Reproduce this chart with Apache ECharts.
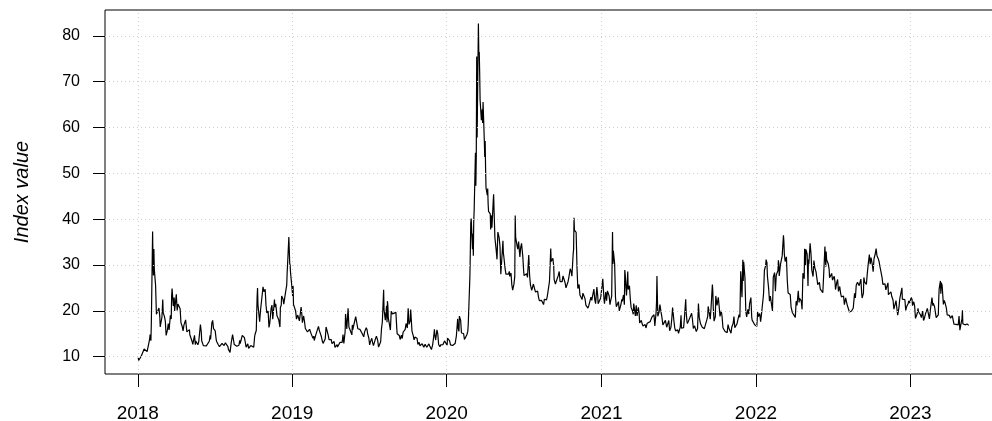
<!doctype html>
<html>
<head>
    <meta charset="UTF-8">
    <title>Index value</title>
    <script src="https://cdn.jsdelivr.net/npm/echarts@6/dist/echarts.min.js"></script>
    <style>
        html, body { margin: 0; padding: 0; background: #fff; }
        #main { width: 992px; height: 421px; }
    </style>
</head>
<body>
<div id="main"></div>
<script>
    // daily closes, [month-day, value], one list per year
    var vix2018 = [
        ['01-02', 9.77], ['01-03', 9.15], ['01-05', 9.22], ['01-09', 10.08], ['01-12', 10.16], ['01-16', 11.66],
        ['01-19', 11.27], ['01-23', 11.10], ['01-26', 11.08], ['01-29', 13.84], ['01-30', 14.79], ['02-01', 13.47],
        ['02-02', 17.31], ['02-05', 37.32], ['02-06', 29.98], ['02-07', 27.73], ['02-08', 33.46], ['02-09', 29.06],
        ['02-12', 25.61], ['02-14', 19.26], ['02-16', 19.46], ['02-20', 20.60], ['02-22', 18.72], ['02-23', 16.49],
        ['02-27', 18.59], ['03-01', 22.47], ['03-02', 19.59], ['03-05', 18.73], ['03-07', 17.76], ['03-09', 14.64],
        ['03-12', 15.78], ['03-14', 17.23], ['03-16', 15.80], ['03-19', 19.02], ['03-21', 18.20], ['03-22', 23.34],
        ['03-23', 24.87], ['03-26', 21.03], ['03-28', 22.87], ['03-29', 19.97], ['04-02', 23.62], ['04-04', 20.06],
        ['04-06', 21.49], ['04-09', 21.77], ['04-11', 20.47], ['04-13', 17.41], ['04-16', 16.56], ['04-18', 15.60],
        ['04-20', 16.88], ['04-24', 18.02], ['04-26', 16.24], ['04-27', 15.41], ['05-01', 15.49], ['05-03', 15.90],
        ['05-04', 14.77], ['05-07', 14.75], ['05-09', 13.42], ['05-11', 12.65], ['05-15', 14.63], ['05-17', 12.59],
        ['05-18', 13.42], ['05-21', 13.08], ['05-23', 12.58], ['05-25', 13.22], ['05-29', 17.02], ['05-31', 15.43],
        ['06-01', 13.46], ['06-05', 12.40], ['06-07', 12.13], ['06-08', 12.18], ['06-12', 12.35], ['06-14', 12.12],
        ['06-15', 11.98], ['06-19', 13.35], ['06-21', 14.64], ['06-22', 13.77], ['06-25', 17.33], ['06-27', 17.91],
        ['06-29', 16.09], ['07-03', 15.60], ['07-05', 13.94], ['07-06', 13.37], ['07-10', 12.64], ['07-12', 12.58],
        ['07-13', 12.18], ['07-17', 12.06], ['07-19', 12.87], ['07-20', 12.86], ['07-24', 12.41], ['07-26', 12.14],
        ['07-27', 13.03], ['07-31', 12.83], ['08-02', 12.19], ['08-03', 11.64], ['08-07', 10.93], ['08-09', 11.27],
        ['08-10', 13.16], ['08-13', 14.78], ['08-15', 14.64], ['08-17', 12.64], ['08-21', 12.86], ['08-23', 12.25],
        ['08-24', 11.99], ['08-28', 12.50], ['08-30', 13.53], ['08-31', 12.86], ['09-05', 14.65], ['09-07', 14.88],
        ['09-10', 14.16], ['09-12', 13.14], ['09-14', 12.07], ['09-18', 12.79], ['09-20', 11.80], ['09-21', 11.68],
        ['09-25', 12.42], ['09-27', 12.41], ['09-28', 12.12], ['10-02', 12.05], ['10-04', 14.22], ['10-05', 14.82],
        ['10-08', 15.69], ['10-10', 22.96], ['10-11', 24.98], ['10-12', 21.31], ['10-16', 17.62], ['10-18', 20.06],
        ['10-19', 19.89], ['10-22', 19.64], ['10-24', 25.23], ['10-26', 24.16], ['10-29', 24.70], ['10-31', 21.23],
        ['11-02', 19.51], ['11-05', 19.96], ['11-07', 16.36], ['11-09', 17.36], ['11-12', 20.45], ['11-14', 21.25],
        ['11-16', 18.14], ['11-20', 22.48], ['11-21', 20.80], ['11-23', 21.52], ['11-26', 18.90], ['11-28', 18.49],
        ['11-30', 18.07], ['12-03', 16.44], ['12-04', 20.74], ['12-06', 21.19], ['12-07', 23.23], ['12-10', 22.64],
        ['12-12', 21.46], ['12-14', 21.63], ['12-17', 24.52], ['12-19', 25.58], ['12-20', 28.38], ['12-21', 30.11],
        ['12-24', 36.07], ['12-26', 30.41], ['12-27', 29.96], ['12-28', 28.34], ['12-31', 25.42]
    ];
    var vix2019 = [
        ['01-02', 23.22], ['01-03', 25.45], ['01-04', 21.38], ['01-07', 21.40], ['01-09', 19.98], ['01-11', 18.19],
        ['01-14', 19.07], ['01-16', 19.04], ['01-18', 17.80], ['01-22', 20.80], ['01-24', 18.89], ['01-25', 17.42],
        ['01-28', 18.87], ['01-30', 17.66], ['02-01', 16.14], ['02-04', 15.73], ['02-06', 15.38], ['02-08', 15.72],
        ['02-11', 15.97], ['02-13', 15.65], ['02-15', 14.91], ['02-19', 14.02], ['02-21', 14.46], ['02-22', 13.51],
        ['02-26', 14.85], ['02-28', 14.78], ['03-01', 14.63], ['03-04', 16.59], ['03-06', 15.74], ['03-08', 16.05],
        ['03-11', 14.33], ['03-13', 13.41], ['03-15', 12.88], ['03-18', 13.10], ['03-20', 13.91], ['03-22', 16.48],
        ['03-25', 16.33], ['03-27', 14.68], ['03-29', 13.71], ['04-01', 13.40], ['04-03', 13.74], ['04-05', 12.82],
        ['04-08', 13.18], ['04-10', 13.30], ['04-12', 12.01], ['04-15', 12.32], ['04-17', 12.60], ['04-18', 12.09],
        ['04-22', 12.42], ['04-24', 13.14], ['04-26', 12.73], ['04-29', 13.11], ['05-01', 14.80], ['05-03', 12.87],
        ['05-06', 15.44], ['05-07', 19.32], ['05-09', 19.10], ['05-10', 16.04], ['05-13', 20.55], ['05-15', 16.44],
        ['05-17', 15.96], ['05-20', 16.31], ['05-22', 14.75], ['05-23', 16.92], ['05-24', 15.85], ['05-28', 17.50],
        ['05-30', 17.30], ['05-31', 18.71], ['06-03', 18.86], ['06-05', 16.09], ['06-07', 16.30], ['06-10', 15.94],
        ['06-12', 15.91], ['06-14', 15.28], ['06-17', 15.35], ['06-19', 14.33], ['06-21', 15.40], ['06-25', 16.28],
        ['06-27', 15.82], ['06-28', 15.08], ['07-01', 14.06], ['07-03', 12.57], ['07-05', 13.28], ['07-08', 14.01],
        ['07-10', 13.03], ['07-12', 12.39], ['07-15', 12.68], ['07-17', 13.97], ['07-19', 14.45], ['07-22', 13.53],
        ['07-24', 12.07], ['07-26', 12.16], ['07-29', 13.24], ['07-31', 16.12], ['08-02', 17.61], ['08-05', 24.59],
        ['08-06', 20.17], ['08-07', 19.49], ['08-09', 17.97], ['08-12', 21.09], ['08-13', 17.52], ['08-14', 22.10],
        ['08-15', 21.18], ['08-16', 18.47], ['08-19', 16.88], ['08-21', 15.80], ['08-23', 19.87], ['08-26', 19.32],
        ['08-28', 19.35], ['08-30', 18.98], ['09-03', 19.66], ['09-05', 16.27], ['09-06', 15.00], ['09-09', 15.27],
        ['09-11', 14.61], ['09-13', 13.74], ['09-16', 14.67], ['09-18', 13.95], ['09-20', 15.32], ['09-23', 14.91],
        ['09-25', 15.96], ['09-27', 17.22], ['09-30', 16.24], ['10-02', 20.56], ['10-03', 19.12], ['10-04', 17.04],
        ['10-07', 17.86], ['10-08', 20.28], ['10-09', 18.64], ['10-11', 15.58], ['10-14', 14.57], ['10-16', 13.68],
        ['10-18', 14.25], ['10-21', 14.00], ['10-23', 14.01], ['10-25', 12.65], ['10-28', 13.11], ['10-30', 12.33],
        ['11-01', 12.30], ['11-04', 12.83], ['11-06', 12.62], ['11-08', 12.07], ['11-11', 12.69], ['11-13', 13.00],
        ['11-15', 12.05], ['11-18', 12.46], ['11-20', 12.78], ['11-22', 12.34], ['11-26', 11.54], ['11-29', 12.62],
        ['12-02', 14.91], ['12-03', 15.96], ['12-04', 14.80], ['12-06', 13.62], ['12-09', 15.86], ['12-11', 14.99],
        ['12-13', 12.63], ['12-16', 12.14], ['12-18', 12.58], ['12-20', 12.51], ['12-23', 12.61], ['12-26', 12.65],
        ['12-27', 13.43], ['12-31', 13.78]
    ];
    var vix2020 = [
        ['01-02', 12.47], ['01-03', 14.02], ['01-06', 13.85], ['01-08', 13.45], ['01-10', 12.56], ['01-13', 12.32],
        ['01-15', 12.42], ['01-17', 12.10], ['01-21', 12.85], ['01-23', 12.98], ['01-24', 14.56], ['01-27', 18.23],
        ['01-28', 16.28], ['01-30', 15.49], ['01-31', 18.84], ['02-03', 17.97], ['02-05', 15.15], ['02-07', 15.47],
        ['02-10', 15.04], ['02-12', 13.74], ['02-14', 13.68], ['02-18', 14.83], ['02-20', 15.56], ['02-21', 17.08],
        ['02-24', 25.03], ['02-25', 27.85], ['02-26', 27.56], ['02-27', 39.16], ['02-28', 40.11], ['03-02', 33.42],
        ['03-03', 36.82], ['03-04', 31.99], ['03-05', 39.62], ['03-06', 41.94], ['03-09', 54.46], ['03-10', 47.30],
        ['03-11', 53.90], ['03-12', 75.47], ['03-13', 57.83], ['03-16', 82.69], ['03-17', 75.91], ['03-18', 76.45],
        ['03-19', 72.00], ['03-20', 66.04], ['03-23', 61.59], ['03-24', 61.67], ['03-25', 63.95], ['03-26', 61.00],
        ['03-27', 65.54], ['03-30', 57.08], ['03-31', 53.54], ['04-01', 57.06], ['04-02', 50.91], ['04-03', 46.80],
        ['04-06', 45.24], ['04-07', 46.70], ['04-08', 43.35], ['04-09', 41.67], ['04-13', 41.17], ['04-14', 37.76],
        ['04-15', 40.84], ['04-16', 40.11], ['04-17', 38.15], ['04-20', 43.83], ['04-21', 45.41], ['04-22', 41.98],
        ['04-24', 35.93], ['04-27', 33.29], ['04-29', 31.23], ['04-30', 34.15], ['05-01', 37.19], ['05-04', 35.97],
        ['05-06', 34.12], ['05-08', 27.98], ['05-11', 27.57], ['05-13', 35.28], ['05-14', 32.61], ['05-15', 31.89],
        ['05-18', 29.30], ['05-20', 27.99], ['05-22', 28.16], ['05-26', 28.01], ['05-28', 28.59], ['05-29', 27.51],
        ['06-01', 28.23], ['06-03', 25.66], ['06-05', 24.52], ['06-08', 25.81], ['06-10', 27.57], ['06-11', 40.79],
        ['06-12', 36.09], ['06-15', 34.40], ['06-17', 33.47], ['06-19', 35.12], ['06-22', 31.77], ['06-24', 33.84],
        ['06-26', 34.73], ['06-29', 31.78], ['07-01', 28.62], ['07-02', 27.68], ['07-06', 27.94], ['07-08', 28.08],
        ['07-10', 27.29], ['07-13', 32.19], ['07-15', 27.76], ['07-17', 25.68], ['07-20', 24.46], ['07-22', 24.32],
        ['07-24', 25.84], ['07-27', 24.74], ['07-29', 24.10], ['07-31', 24.46], ['08-03', 24.28], ['08-05', 22.99],
        ['08-07', 22.21], ['08-10', 22.13], ['08-12', 22.28], ['08-14', 22.05], ['08-17', 21.35], ['08-19', 22.53],
        ['08-21', 22.54], ['08-24', 22.37], ['08-26', 23.27], ['08-28', 22.96], ['08-31', 26.41], ['09-02', 26.57],
        ['09-03', 33.60], ['09-04', 30.75], ['09-08', 31.46], ['09-10', 29.71], ['09-11', 26.87], ['09-14', 25.85],
        ['09-16', 26.04], ['09-18', 25.83], ['09-21', 27.78], ['09-23', 28.58], ['09-25', 26.38], ['09-28', 26.19],
        ['09-30', 26.37], ['10-02', 27.63], ['10-05', 27.96], ['10-07', 26.07], ['10-09', 25.00], ['10-12', 25.07],
        ['10-14', 26.40], ['10-16', 27.41], ['10-19', 29.18], ['10-21', 28.65], ['10-23', 27.55], ['10-26', 32.46],
        ['10-27', 33.35], ['10-28', 40.28], ['10-29', 37.59], ['10-30', 38.02], ['11-02', 37.13], ['11-04', 29.57],
        ['11-06', 24.86], ['11-09', 25.75], ['11-11', 23.45], ['11-13', 23.10], ['11-16', 22.45], ['11-18', 23.84],
        ['11-20', 23.70], ['11-23', 22.66], ['11-25', 21.25], ['11-27', 20.84], ['11-30', 20.57], ['12-02', 21.17],
        ['12-04', 20.79], ['12-07', 23.00], ['12-09', 22.27], ['12-11', 23.31], ['12-14', 24.72], ['12-16', 22.50],
        ['12-18', 21.57], ['12-21', 25.16], ['12-23', 23.31], ['12-24', 21.53], ['12-28', 21.70], ['12-30', 22.77],
        ['12-31', 22.75]
    ];
    var vix2021 = [
        ['01-04', 26.97], ['01-05', 25.34], ['01-06', 25.07], ['01-07', 22.37], ['01-08', 21.56], ['01-11', 24.08],
        ['01-13', 22.21], ['01-15', 24.34], ['01-19', 23.24], ['01-21', 21.32], ['01-22', 21.91], ['01-25', 23.19],
        ['01-26', 23.02], ['01-27', 37.21], ['01-28', 30.21], ['01-29', 33.09], ['02-01', 30.24], ['02-03', 22.91],
        ['02-05', 20.87], ['02-08', 21.24], ['02-10', 21.99], ['02-12', 19.97], ['02-16', 21.46], ['02-18', 22.49],
        ['02-19', 22.05], ['02-22', 23.45], ['02-24', 21.34], ['02-25', 28.89], ['02-26', 27.95], ['03-01', 23.35],
        ['03-03', 26.67], ['03-04', 28.57], ['03-05', 24.66], ['03-08', 25.47], ['03-10', 22.56], ['03-12', 20.69],
        ['03-15', 20.03], ['03-17', 19.23], ['03-18', 21.58], ['03-19', 20.95], ['03-22', 18.88], ['03-24', 21.20],
        ['03-26', 18.86], ['03-29', 20.74], ['03-31', 19.40], ['04-01', 17.33], ['04-05', 17.91], ['04-07', 17.16],
        ['04-09', 16.69], ['04-12', 16.91], ['04-14', 16.99], ['04-16', 16.25], ['04-19', 17.30], ['04-21', 17.50],
        ['04-23', 17.33], ['04-26', 17.64], ['04-28', 17.28], ['04-30', 18.61], ['05-03', 18.31], ['05-05', 19.15],
        ['05-07', 16.69], ['05-10', 19.66], ['05-11', 21.84], ['05-12', 27.59], ['05-13', 23.13], ['05-14', 18.81],
        ['05-17', 19.72], ['05-19', 21.34], ['05-21', 20.15], ['05-24', 18.40], ['05-26', 16.92], ['05-28', 16.76],
        ['06-01', 17.90], ['06-03', 18.04], ['06-04', 16.42], ['06-07', 16.42], ['06-09', 17.89], ['06-11', 15.65],
        ['06-14', 16.39], ['06-16', 18.15], ['06-18', 20.70], ['06-21', 17.89], ['06-23', 16.32], ['06-25', 15.62],
        ['06-28', 15.76], ['06-30', 15.83], ['07-02', 15.07], ['07-06', 16.44], ['07-08', 19.00], ['07-09', 16.18],
        ['07-12', 16.17], ['07-14', 16.33], ['07-16', 18.45], ['07-19', 22.50], ['07-20', 19.73], ['07-22', 17.69],
        ['07-23', 17.20], ['07-26', 17.58], ['07-28', 18.31], ['07-30', 18.24], ['08-02', 19.46], ['08-04', 18.04],
        ['08-06', 16.15], ['08-09', 16.72], ['08-11', 16.06], ['08-13', 15.45], ['08-16', 16.12], ['08-18', 21.57],
        ['08-19', 21.67], ['08-20', 18.56], ['08-23', 17.15], ['08-25', 16.79], ['08-27', 16.39], ['08-30', 16.11],
        ['09-01', 16.11], ['09-03', 16.41], ['09-07', 18.07], ['09-09', 18.80], ['09-10', 20.95], ['09-13', 19.37],
        ['09-15', 18.18], ['09-17', 20.81], ['09-20', 25.71], ['09-21', 24.36], ['09-22', 20.87], ['09-24', 17.75],
        ['09-27', 18.76], ['09-28', 23.25], ['09-30', 23.14], ['10-01', 21.15], ['10-04', 22.96], ['10-06', 21.00],
        ['10-08', 18.77], ['10-11', 20.00], ['10-13', 18.64], ['10-15', 16.30], ['10-18', 16.30], ['10-20', 15.49],
        ['10-22', 15.43], ['10-25', 15.24], ['10-27', 16.98], ['10-29', 16.26], ['11-01', 16.41], ['11-03', 15.10],
        ['11-05', 16.48], ['11-08', 17.22], ['11-10', 18.73], ['11-12', 16.29], ['11-15', 16.49], ['11-17', 17.11],
        ['11-19', 17.91], ['11-22', 19.17], ['11-24', 18.58], ['11-26', 28.62], ['11-29', 22.96], ['11-30', 27.19],
        ['12-01', 31.12], ['12-02', 26.50], ['12-03', 30.67], ['12-06', 27.18], ['12-08', 19.90], ['12-10', 18.69],
        ['12-13', 20.31], ['12-15', 19.29], ['12-17', 21.57], ['12-20', 22.87], ['12-22', 18.63], ['12-23', 17.96],
        ['12-27', 17.68], ['12-29', 16.95], ['12-31', 17.22]
    ];
    var vix2022 = [
        ['01-03', 16.60], ['01-05', 19.73], ['01-07', 18.76], ['01-10', 19.40], ['01-12', 17.62], ['01-14', 19.19],
        ['01-18', 22.79], ['01-19', 23.85], ['01-21', 28.85], ['01-24', 29.90], ['01-25', 31.16], ['01-27', 30.49],
        ['01-28', 27.66], ['01-31', 24.83], ['02-02', 22.09], ['02-04', 23.22], ['02-07', 22.86], ['02-09', 19.96],
        ['02-11', 27.36], ['02-14', 28.33], ['02-16', 24.29], ['02-18', 27.75], ['02-22', 28.81], ['02-23', 31.02],
        ['02-24', 30.32], ['02-25', 27.59], ['02-28', 30.15], ['03-02', 29.98], ['03-04', 31.98], ['03-07', 36.45],
        ['03-08', 35.13], ['03-09', 32.45], ['03-11', 30.75], ['03-14', 31.77], ['03-16', 26.67], ['03-18', 23.87],
        ['03-21', 23.53], ['03-23', 23.57], ['03-25', 20.81], ['03-28', 19.63], ['03-30', 19.33], ['04-01', 19.63],
        ['04-04', 18.57], ['04-06', 22.10], ['04-08', 21.16], ['04-11', 24.37], ['04-13', 21.82], ['04-14', 22.70],
        ['04-18', 22.17], ['04-20', 20.32], ['04-22', 28.21], ['04-25', 27.02], ['04-26', 33.52], ['04-28', 29.99],
        ['04-29', 33.40], ['05-02', 32.34], ['05-04', 25.42], ['05-05', 31.20], ['05-06', 30.19], ['05-09', 34.75],
        ['05-11', 32.56], ['05-13', 28.87], ['05-16', 27.47], ['05-18', 30.96], ['05-20', 29.43], ['05-23', 28.48],
        ['05-25', 28.37], ['05-27', 25.72], ['05-31', 26.19], ['06-02', 24.72], ['06-03', 24.79], ['06-06', 25.07],
        ['06-08', 23.96], ['06-10', 27.75], ['06-13', 34.02], ['06-15', 29.62], ['06-16', 32.95], ['06-17', 31.13],
        ['06-21', 30.19], ['06-23', 29.05], ['06-24', 27.23], ['06-27', 26.95], ['06-29', 28.16], ['07-01', 26.70],
        ['07-05', 27.54], ['07-07', 26.08], ['07-08', 24.64], ['07-11', 26.17], ['07-13', 26.82], ['07-15', 24.23],
        ['07-18', 25.30], ['07-20', 23.88], ['07-22', 23.03], ['07-25', 23.36], ['07-27', 23.24], ['07-29', 21.33],
        ['08-01', 22.84], ['08-03', 21.95], ['08-05', 21.15], ['08-08', 21.29], ['08-10', 19.74], ['08-12', 19.53],
        ['08-15', 19.95], ['08-17', 19.90], ['08-19', 20.60], ['08-22', 23.80], ['08-24', 22.82], ['08-26', 25.56],
        ['08-29', 26.21], ['08-31', 25.87], ['09-02', 25.47], ['09-06', 26.91], ['09-08', 23.61], ['09-09', 22.79],
        ['09-12', 23.87], ['09-13', 27.27], ['09-15', 26.27], ['09-16', 26.30], ['09-19', 25.76], ['09-21', 27.99],
        ['09-23', 29.92], ['09-26', 32.26], ['09-28', 30.18], ['09-30', 31.62], ['10-03', 30.10], ['10-05', 28.55],
        ['10-07', 31.36], ['10-10', 32.45], ['10-12', 33.57], ['10-14', 32.02], ['10-17', 31.37], ['10-19', 30.76],
        ['10-21', 29.69], ['10-24', 29.85], ['10-26', 27.28], ['10-28', 25.75], ['10-31', 25.88], ['11-02', 25.86],
        ['11-04', 24.55], ['11-07', 24.35], ['11-09', 26.09], ['11-10', 23.53], ['11-14', 23.73], ['11-16', 24.11],
        ['11-18', 23.12], ['11-21', 22.36], ['11-23', 20.35], ['11-25', 20.50], ['11-28', 22.21], ['11-30', 20.58],
        ['12-02', 19.06], ['12-05', 20.75], ['12-07', 22.68], ['12-09', 22.83], ['12-12', 25.00], ['12-13', 22.55],
        ['12-15', 22.83], ['12-16', 22.62], ['12-19', 22.42], ['12-21', 20.07], ['12-23', 20.87], ['12-27', 21.65],
        ['12-28', 22.14], ['12-30', 21.67]
    ];
    var vix2023 = [
        ['01-03', 22.90], ['01-05', 22.46], ['01-06', 21.13], ['01-09', 21.97], ['01-11', 21.09], ['01-13', 18.35],
        ['01-17', 19.36], ['01-19', 20.52], ['01-20', 19.85], ['01-23', 19.81], ['01-25', 19.08], ['01-27', 18.51],
        ['01-30', 19.94], ['02-01', 17.87], ['02-03', 18.33], ['02-06', 19.43], ['02-08', 19.63], ['02-10', 20.53],
        ['02-13', 20.34], ['02-15', 18.23], ['02-17', 20.02], ['02-21', 22.87], ['02-23', 21.14], ['02-24', 21.67],
        ['02-27', 20.95], ['03-01', 20.58], ['03-03', 18.49], ['03-06', 18.61], ['03-08', 19.11], ['03-09', 22.61],
        ['03-10', 24.80], ['03-13', 26.52], ['03-14', 23.73], ['03-15', 26.14], ['03-17', 25.51], ['03-20', 21.38],
        ['03-22', 22.26], ['03-24', 21.71], ['03-27', 20.60], ['03-29', 19.12], ['03-31', 18.70], ['04-03', 19.00],
        ['04-05', 19.08], ['04-06', 18.40], ['04-10', 18.97], ['04-12', 19.09], ['04-14', 17.07], ['04-17', 16.95],
        ['04-19', 17.03], ['04-21', 16.77], ['04-24', 16.89], ['04-26', 18.84], ['04-28', 15.78], ['05-01', 16.08],
        ['05-03', 18.34], ['05-04', 20.09], ['05-05', 17.19], ['05-08', 16.98], ['05-10', 16.94], ['05-12', 17.03],
        ['05-15', 17.12], ['05-17', 16.87], ['05-19', 16.81]
    ];
    var years = [2018, 2019, 2020, 2021, 2022, 2023];
    var yTicks = [10, 20, 30, 40, 50, 60, 70, 80];

    var byYear = [vix2018, vix2019, vix2020, vix2021, vix2022, vix2023];
    var data = [];
    byYear.forEach(function (list, i) {
        list.forEach(function (p) {
            var md = p[0].split('-');
            data.push([Date.UTC(years[i], +md[0] - 1, +md[1]), p[1]]);
        });
    });

    // R style 4% padding on both axes
    var xs = data.map(function (d) { return d[0]; });
    var ys = data.map(function (d) { return d[1]; });
    var x0 = Math.min.apply(null, xs), x1 = Math.max.apply(null, xs);
    var y0 = Math.min.apply(null, ys), y1 = Math.max.apply(null, ys);
    var xPad = (x1 - x0) * 0.04, yPad = (y1 - y0) * 0.04;

    var yearTicks = years.map(function (y) { return Date.UTC(y, 0, 1); });
    var gridLines = yTicks.map(function (v) { return {yAxis: v}; })
        .concat(yearTicks.map(function (t) { return {xAxis: t}; }));

    var font = '"Liberation Sans", Arial, Helvetica, sans-serif';
    var myChart = echarts.init(document.getElementById('main'));
    myChart.setOption({
        animation: false,
        grid: {
            left: 105, top: 10, width: 897, height: 364,
            outerBoundsMode: 'none',
            containLabel: false,
            show: true, borderColor: '#000', borderWidth: 1, backgroundColor: 'transparent'
        },
        xAxis: {
            type: 'value',
            min: x0 - xPad,
            max: x1 + xPad,
            axisLine: {show: false},
            splitLine: {show: false},
            axisTick: {show: true, customValues: yearTicks, length: 13, lineStyle: {color: '#000'}},
            axisLabel: {
                customValues: yearTicks,
                margin: 30,
                fontSize: 19,
                color: '#000',
                fontFamily: font,
                formatter: function (v) { return new Date(v).getUTCFullYear(); }
            }
        },
        yAxis: {
            type: 'value',
            min: y0 - yPad,
            max: y1 + yPad,
            name: 'Index value',
            nameLocation: 'middle',
            nameGap: 73,
            nameTextStyle: {fontSize: 20, fontStyle: 'italic', color: '#000', fontFamily: font},
            axisLine: {show: false},
            splitLine: {show: false},
            axisTick: {show: true, customValues: yTicks, length: 12, lineStyle: {color: '#000'}},
            axisLabel: {customValues: yTicks, margin: 25, fontSize: 16, color: '#000', fontFamily: font}
        },
        series: [
            {
                type: 'line',
                data: [],
                z: 1,
                silent: true,
                markLine: {
                    silent: true,
                    symbol: ['none', 'none'],
                    label: {show: false},
                    animation: false,
                    lineStyle: {color: '#cfcfcf', type: [1, 3], width: 1},
                    data: gridLines
                }
            },
            {
                type: 'line',
                data: data,
                z: 3,
                showSymbol: false,
                symbol: 'none',
                lineStyle: {color: '#000', width: 1.2}
            }
        ]
    });
</script>
</body>
</html>
